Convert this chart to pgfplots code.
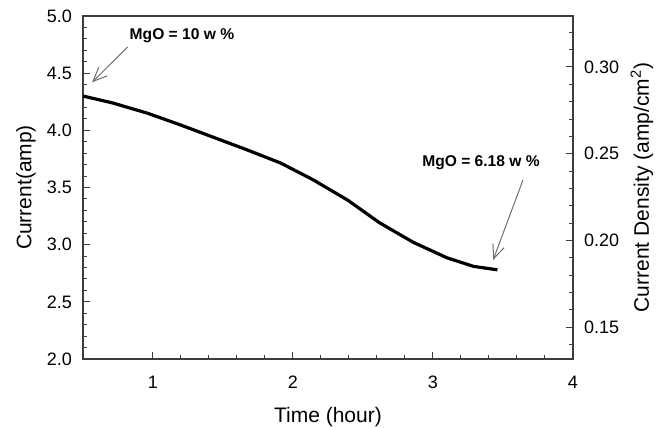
\documentclass[border=0pt]{standalone}
\usepackage{fontspec}
\setmainfont{Liberation Sans}
\usepackage{pgfplots}
\pgfplotsset{compat=1.18}
\usetikzlibrary{arrows.meta}

\definecolor{axisgray}{RGB}{60,60,60}
\definecolor{arrowgray}{RGB}{110,110,110}

\begin{document}
\begin{tikzpicture}
\pgfplotsset{
  every axis/.append style={
    scale only axis,
    width=245pt, height=171.5pt,
    xmin=0.5, xmax=4,
    tick align=inside,
    major tick length=3.5pt,
    minor tick length=2pt,
    tick style={axisgray, line width=0.5pt},
    axis line style={axisgray, line width=0.7pt},
    tick label style={font=\fontsize{9}{10}\selectfont},
    label style={font=\fontsize{10.5}{12}\selectfont},
    /pgf/number format/assume math mode=true,
  },
}
% left axis: current
\begin{axis}[
  ymin=2, ymax=5,
  xtick={1,2,3,4},
  minor x tick num=4,
  ytick={2,2.5,...,5},
  minor y tick num=4,
  xtick pos=bottom,
  ytick pos=left,
  yticklabel style={xshift=-2pt, /pgf/number format/fixed,
    /pgf/number format/fixed zerofill, /pgf/number format/precision=1},
  xticklabel style={anchor=center, yshift=-11.5pt},
  xlabel={Time (hour)},
  ylabel={Current(amp)},
  xlabel style={at={(axis description cs:0.5,0)}, anchor=center, yshift=-29pt},
  ylabel style={at={(axis description cs:0,0.5)}, anchor=center, yshift=28.5pt},
  clip=false,
]
% current vs time
\addplot[black, line width=1.6pt, line join=round] coordinates {
  (0.50, 4.30)
  (0.71, 4.24)
  (0.96, 4.15)
  (1.19, 4.05)
  (1.43, 3.94)
  (1.67, 3.83)
  (1.91, 3.715)
  (2.14, 3.57)
  (2.39, 3.39)
  (2.62, 3.19)
  (2.86, 3.02)
  (3.10, 2.885)
  (3.29, 2.81)
  (3.46, 2.78)
};

% annotations
\node[font=\bfseries\fontsize{7.8}{9}\selectfont] at (axis cs:1.207,4.825) {MgO = 10 w \%};
\draw[arrowgray, line width=0.5pt, -{Straight Barb[length=7pt, width=6pt]}]
  (axis cs:0.82,4.73) -- (axis cs:0.565,4.42);
\node[font=\bfseries\fontsize{7.8}{9}\selectfont] at (axis cs:3.343,3.715) {MgO = 6.18 w \%};
\draw[arrowgray, line width=0.5pt, -{Straight Barb[length=7pt, width=6pt]}]
  (axis cs:3.643,3.566) -- (axis cs:3.43,2.867);
\end{axis}

% right axis: current density
\begin{axis}[
  ymin=0.13175, ymax=0.32938,
  axis x line=none,
  axis y line*=right,
  tick align=inside,
  ytick={0.15,0.20,0.25,0.30},
  minor ytick={0.14,0.16,0.17,0.18,0.19,0.21,0.22,0.23,0.24,0.26,0.27,0.28,0.29,0.31,0.32},
  yticklabel style={xshift=2pt, /pgf/number format/fixed,
    /pgf/number format/fixed zerofill, /pgf/number format/precision=2},
  ylabel={Current Density (amp/cm\textsuperscript{2})},
  ylabel style={at={(axis description cs:1,0.5)}, anchor=center, yshift=-34.5pt},
]
\end{axis}
\pgfresetboundingbox
\path (-41.5pt,-34.5pt) rectangle (289pt,179.5pt);
\end{tikzpicture}
\end{document}
